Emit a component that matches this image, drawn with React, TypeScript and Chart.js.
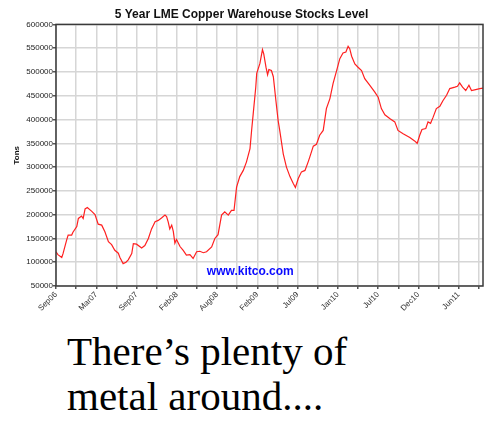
import React, { useEffect, useRef } from "react";
import { Chart, registerables } from "chart.js";

Chart.register(...registerables);

const TITLE = "5 Year LME Copper Warehouse Stocks Level";
const Y_TITLE = "Tons";
const WATERMARK = "www.kitco.com";
const CAPTION_LINES = ["There\u2019s plenty of", "metal around...."];

// x axis: trading-day index since Sep 2006; a grid line every 63 trading days, a label every other one
const tickLabels = ["Sep06", "Mar07", "Sep07", "Feb08", "Aug08", "Feb09", "Jul09", "Jan10", "Jul10", "Dec10", "Jun11"];
const DAYS_PER_GRID = 63;
const LAST_DAY = 1336;

const yTicks = [50000, 100000, 150000, 200000, 250000, 300000, 350000, 400000, 450000, 500000, 550000, 600000];

const tradingDay = [
  0, 6, 18, 22, 33, 38, 49, 53, 65, 70, 80, 85, 91, 98, 112, 122, 132, 143, 153, 164,
  174, 184, 195, 200, 210, 219, 226, 237, 242, 252, 268, 278, 289, 299, 310, 320, 330, 341, 346, 351,
  356, 362, 367, 372, 377, 388, 398, 408, 419, 429, 440, 450, 461, 471, 487, 497, 507, 518, 528, 539,
  549, 557, 565, 575, 586, 596, 607, 612, 617, 625, 628, 638, 646, 650, 657, 662, 666, 674, 680, 688,
  695, 700, 711, 721, 732, 742, 749, 758, 768, 779, 789, 794, 805, 815, 825, 836, 846, 857, 867, 878,
  888, 898, 907, 914, 919, 925, 935, 945, 956, 966, 982, 997, 1008, 1018, 1029, 1044, 1060, 1070, 1086, 1107,
  1122, 1130, 1138, 1145, 1157, 1164, 1172, 1180, 1190, 1201, 1211, 1222, 1232, 1248, 1256, 1263, 1272, 1282, 1292, 1300,
  1313, 1326, 1336,
];

const stocks = [
  122000, 116000, 110000, 118000, 146000, 157000, 157000, 163000, 175000, 192000, 197000, 192000, 212000, 215000, 207000, 200000, 180000, 178000, 164000, 143000,
  137000, 125000, 119000, 110000, 97000, 100000, 105000, 118000, 139000, 138000, 130000, 135000, 150000, 170000, 185000, 188000, 193000, 199000, 196000, 185000,
  170000, 178000, 165000, 140000, 148000, 133000, 125000, 115000, 116000, 108000, 122000, 123000, 120000, 122000, 132000, 150000, 158000, 199000, 206000, 199000,
  209000, 209000, 258000, 280000, 293000, 311000, 339000, 377000, 412000, 468000, 497000, 518000, 547000, 538000, 510000, 494000, 505000, 503000, 490000, 440000,
  398000, 377000, 328000, 300000, 280000, 266000, 257000, 276000, 290000, 293000, 311000, 321000, 344000, 348000, 367000, 377000, 423000, 444000, 476000, 503000,
  528000, 540000, 542000, 554000, 549000, 533000, 517000, 510000, 503000, 486000, 472000, 458000, 447000, 423000, 410000, 402000, 395000, 377000, 370000, 362000,
  355000, 350000, 367000, 379000, 381000, 395000, 392000, 405000, 423000, 428000, 440000, 451000, 465000, 468000, 470000, 477000, 468000, 461000, 472000, 461000,
  463000, 465000, 466000,
];

const FONT = "'Liberation Sans', Arial, sans-serif";

const framePlugin = {
  id: "frame",
  afterDraw(chart: any) {
    const { ctx, chartArea: a } = chart;
    ctx.save();
    ctx.strokeStyle = "#3a3a3a";
    ctx.lineWidth = 1.5;
    ctx.strokeRect(a.left, a.top, a.right - a.left, a.bottom - a.top);
    ctx.restore();
  },
};

const watermarkPlugin = {
  id: "watermark",
  beforeDatasetsDraw(chart: any) {
    const { ctx, chartArea: a } = chart;
    ctx.save();
    ctx.fillStyle = "#0a0aff";
    ctx.font = `bold 12px ${FONT}`;
    ctx.textAlign = "center";
    ctx.textBaseline = "middle";
    ctx.fillText(WATERMARK, a.left + (a.right - a.left) * 0.455, a.top + (a.bottom - a.top) * 0.946);
    ctx.restore();
  },
};

function CopperChart() {
  const ref = useRef<HTMLCanvasElement | null>(null);
  useEffect(() => {
    if (!ref.current) return;
    const points = tradingDay.map((d, i) => ({ x: d, y: stocks[i] }));
    const gridTicks: number[] = [];
    for (let v = 0; v <= LAST_DAY; v += DAYS_PER_GRID) gridTicks.push(v);
    const chart = new Chart(ref.current, {
      type: "line",
      data: {
        datasets: [
          {
            data: points,
            borderColor: "#ff2020",
            borderWidth: 1.2,
            pointRadius: 0,
            tension: 0,
            fill: false,
          },
        ],
      },
      options: {
        responsive: false,
        animation: false,
        layout: { padding: { left: 0, right: 17, top: 0, bottom: 0 } },
        plugins: {
          legend: { display: false },
          tooltip: { enabled: false },
          title: {
            display: true,
            text: TITLE,
            color: "#111",
            font: { family: FONT, size: 12, weight: "bold" },
            padding: { top: 7, bottom: 3 },
          },
        },
        scales: {
          x: {
            type: "linear",
            min: 0,
            max: LAST_DAY,
            bounds: "data",
            afterBuildTicks: (scale: any) => {
              scale.ticks = gridTicks.map((v) => ({ value: v }));
            },
            afterFit: (scale: any) => {
              scale.height = 34;
            },
            border: { display: false },
            grid: {
              color: "#d6d6d6",
              lineWidth: 1.5,
              tickLength: 3,
              tickColor: "#555",
            },
            ticks: {
              autoSkip: false,
              minRotation: 45,
              maxRotation: 45,
              padding: 1,
              color: "#333",
              font: { family: FONT, size: 8 },
              callback: (_v: any, i: number) => (i % 2 === 0 ? tickLabels[i / 2] ?? "" : ""),
            },
          },
          y: {
            type: "linear",
            min: yTicks[0],
            max: yTicks[yTicks.length - 1],
            afterBuildTicks: (scale: any) => {
              scale.ticks = yTicks.map((v) => ({ value: v }));
            },
            afterFit: (scale: any) => {
              scale.width = 56;
            },
            border: { display: false },
            grid: {
              color: "#d6d6d6",
              lineWidth: 1.5,
              tickLength: 3,
              tickColor: "#555",
            },
            ticks: {
              padding: 0,
              color: "#222",
              font: { family: FONT, size: 8 },
              callback: (v: any) => String(v),
            },
            title: {
              display: true,
              text: Y_TITLE,
              color: "#111",
              font: { family: FONT, size: 8, weight: "bold" },
              padding: { top: 12, bottom: 0 },
            },
          },
        },
      },
      plugins: [framePlugin, watermarkPlugin],
    });
    return () => chart.destroy();
  }, []);

  return (
    <div style={{ position: "absolute", left: 0, top: 0, width: 500, height: 426, background: "#fff" }}>
      <canvas ref={ref} width={500} height={320} style={{ position: "absolute", left: 0, top: 0, display: "block" }} />
      <div
        style={{
          position: "absolute",
          left: 67,
          top: 329,
          fontFamily: "'Liberation Serif', 'Times New Roman', serif",
          fontSize: 41,
          lineHeight: "45px",
          color: "#000",
          whiteSpace: "nowrap",
        }}
      >
        {CAPTION_LINES.map((l, i) => (
          <div key={i}>{l}</div>
        ))}
      </div>
    </div>
  );
}

export default function App() {
  return <CopperChart />;
}
